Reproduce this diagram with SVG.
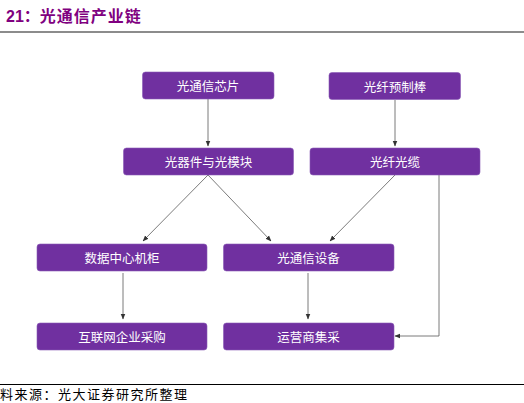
<svg xmlns="http://www.w3.org/2000/svg" width="524" height="403" viewBox="0 0 524 403">
<style>
.box{fill:#7030A0;stroke:#8a5bb5;stroke-width:0.6}
.lbl{fill:#ffffff;font-family:"Noto Sans CJK SC","Liberation Sans",sans-serif;font-size:12.5px;text-anchor:middle;dominant-baseline:central}
.con{stroke:#595959;stroke-width:0.8;fill:none;marker-end:url(#ah)}
</style>
<defs>
<marker id="ah" viewBox="0 0 10 10" refX="9" refY="5" markerWidth="6" markerHeight="6" markerUnits="userSpaceOnUse" orient="auto">
<path d="M0,1 L10,5 L0,9 Z" fill="#333333"/>
</marker>
</defs>
<rect width="524" height="403" fill="#ffffff"/>
<text x="6" y="22" font-family="'Liberation Sans','Noto Sans CJK SC',sans-serif" font-size="16" font-weight="bold" fill="#800080">21：<tspan font-family="'Noto Sans CJK SC',sans-serif" letter-spacing="1">光通信产业链</tspan></text>
<line x1="0" y1="32" x2="524" y2="32" stroke="#8c8c8c" stroke-width="2"/>
<g id="connectors">
<line class="con" x1="208" y1="99" x2="208" y2="146"/>
<line class="con" x1="395" y1="100" x2="395" y2="146"/>
<line class="con" x1="208" y1="175" x2="143" y2="241"/>
<line class="con" x1="208" y1="175" x2="271" y2="241"/>
<line class="con" x1="395" y1="175" x2="330" y2="241"/>
<polyline class="con" points="439,175 439,336 395,336"/>
<line class="con" x1="123" y1="273" x2="123" y2="319"/>
<line class="con" x1="308" y1="273" x2="308" y2="319"/>
</g>
<g id="n1"><rect class="box" x="142.5" y="72" width="131.5" height="27" rx="3"/><text class="lbl" x="208" y="85.5">光通信芯片</text></g>
<g id="n2"><rect class="box" x="329" y="72.5" width="131.5" height="27" rx="3"/><text class="lbl" x="395" y="86">光纤预制棒</text></g>
<g id="n3"><rect class="box" x="123.5" y="148" width="170" height="27" rx="3"/><text class="lbl" x="208.5" y="161.5">光器件与光模块</text></g>
<g id="n4"><rect class="box" x="310" y="148" width="170" height="27" rx="3"/><text class="lbl" x="395" y="161.5">光纤光缆</text></g>
<g id="n5"><rect class="box" x="37" y="244" width="170" height="27" rx="3"/><text class="lbl" x="122" y="257.5">数据中心机柜</text></g>
<g id="n6"><rect class="box" x="223.5" y="244" width="170.5" height="27" rx="3"/><text class="lbl" x="308.5" y="257.5">光通信设备</text></g>
<g id="n7"><rect class="box" x="37" y="323" width="170" height="27" rx="3"/><text class="lbl" x="122" y="336.5">互联网企业采购</text></g>
<g id="n8"><rect class="box" x="223.5" y="323" width="170.5" height="27" rx="3"/><text class="lbl" x="308.5" y="336.5">运营商集采</text></g>
<line x1="0" y1="384.5" x2="524" y2="384.5" stroke="#000000" stroke-width="1"/>
<text x="0" y="399" font-family="'Noto Sans CJK SC',serif" font-size="13" letter-spacing="1.5" fill="#000000">料来源：光大证券研究所整理</text>
</svg>
